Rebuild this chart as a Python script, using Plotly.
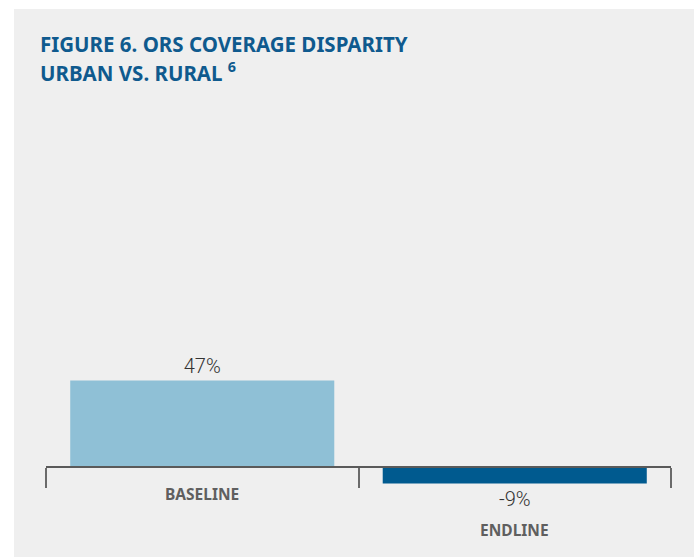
import plotly.graph_objects as go

# Urban vs. rural ORS coverage gap, percentage points
periods = ["BASELINE", "ENDLINE"]
disparity = [47, -9]
value_labels = ["47%", "-9%"]
bar_colors = ["#8fc0d6", "#005a8f"]

title_line1 = "FIGURE 6. ORS COVERAGE DISPARITY"
title_line2 = "URBAN VS. RURAL <sup>6</sup>"

W, H = 694, 557
M_L, M_R, M_T, M_B = 46, 23, 120, 37
Y_MIN, Y_MAX = -28.8, 188.6

fig = go.Figure()
fig.add_trace(go.Bar(
    x=periods,
    y=disparity,
    marker=dict(color=bar_colors, line=dict(width=0)),
    text=value_labels,
    textposition="outside",
    textfont=dict(family="Roboto", size=20, color="#333333", weight=300),
    cliponaxis=False,
    hoverinfo="skip",
))

# place the category axis on the zero line
zero_pos = (0 - Y_MIN) / (Y_MAX - Y_MIN)

plot_w = W - M_L - M_R
plot_h = H - M_T - M_B

fig.update_layout(
    width=W,
    height=H,
    margin=dict(l=M_L, r=M_R, t=M_T, b=M_B, pad=0),
    paper_bgcolor="#ffffff",
    plot_bgcolor="rgba(0,0,0,0)",
    showlegend=False,
    bargap=0.155,
    xaxis=dict(
        type="category",
        anchor="free",
        position=zero_pos,
        showline=True,
        linecolor="#5a5a5a",
        linewidth=1.5,
        ticks="outside",
        tickson="boundaries",
        ticklen=20,
        tickwidth=2,
        tickcolor="#6a6a6a",
        showticklabels=False,
        showgrid=False,
        zeroline=False,
        fixedrange=True,
    ),
    yaxis=dict(
        range=[Y_MIN, Y_MAX],
        visible=False,
        showgrid=False,
        zeroline=False,
        fixedrange=True,
    ),
    # grey panel behind the whole figure, inset from the top and left edges
    shapes=[dict(
        type="rect",
        xref="paper", yref="paper",
        x0=(14 - M_L) / plot_w, x1=(W - M_L) / plot_w,
        y0=-M_B / plot_h,
        y1=(H - M_B - 9) / plot_h,
        fillcolor="#efefef",
        line=dict(width=0),
        layer="below",
    )],
)

# category labels under the axis
label_font = dict(family="Noto Sans", size=15.5, color="#5f5f5f", weight="bold")
for name, shift in zip(periods, [-27, -63]):
    fig.add_annotation(
        x=name, y=0, xref="x", yref="y",
        text=name, showarrow=False,
        yanchor="middle", yshift=shift,
        font=label_font,
    )

# two-line heading
title_font = dict(family="Noto Sans", size=20.5, color="#0f5a8e", weight="bold")
for txt, ypx in [(title_line1, 44), (title_line2, 72)]:
    fig.add_annotation(
        xref="paper", yref="paper",
        x=(38 - M_L) / plot_w,
        y=(H - M_B - ypx) / plot_h,
        xanchor="left", yanchor="middle",
        text=txt, showarrow=False,
        font=title_font,
    )

fig.write_html("out.html")
